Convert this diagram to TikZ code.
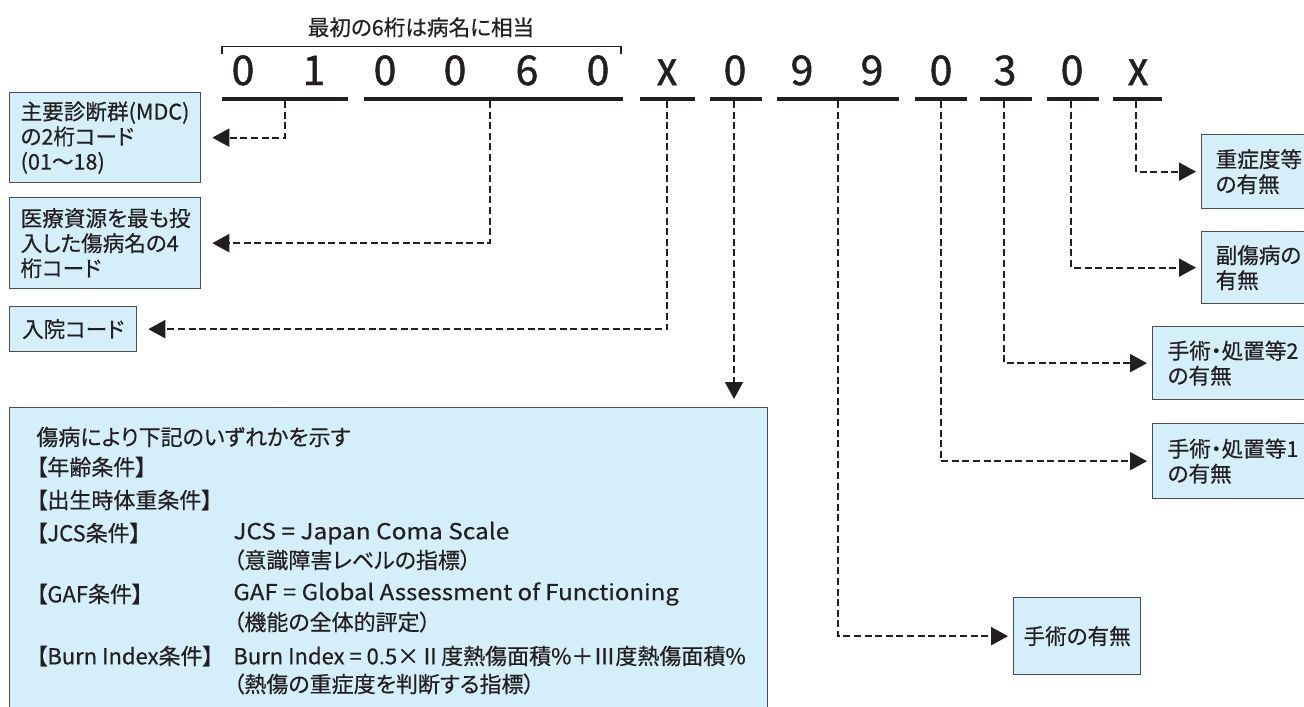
\documentclass[tikz,border=0pt]{standalone}
\usepackage{fontspec}
\setmainfont{Noto Sans CJK JP}[RawFeature=+palt, FakeBold=0.4]
\newfontfamily\digitfont{Noto Sans CJK JP}[FakeBold=1.2]
\usetikzlibrary{arrows.meta}
\definecolor{ink}{HTML}{231F20}
\definecolor{boxfill}{HTML}{D4EEFA}
\definecolor{boxline}{HTML}{4D4D4D}
\begin{document}
\begin{tikzpicture}[x=0.5pt,y=-0.5pt,
  box/.style={draw=boxline, fill=boxfill, line width=0.65pt, text=ink, anchor=north west,
    font=\fontsize{10.8}{12.5}\selectfont, inner ysep=0pt},
  digit/.style={text=ink, font=\digitfont\fontsize{20.5}{22}\selectfont, anchor=base, inner sep=0pt},
  uline/.style={draw=ink, line width=2.1pt},
  conn/.style={draw=ink, line width=1pt, dash pattern=on 3.5pt off 1.8pt,
    -{Triangle[length=8.5pt,width=9pt]}},
  cond/.style={text=ink, anchor=west, inner sep=0pt, font=\fontsize{11}{13}\selectfont}]
\clip (0,0) rectangle (1304,706);
\fill[white] (0,0) rectangle (1304,706);

% title and bracket
\node[text=ink, anchor=base, inner sep=0pt, font=\fontsize{10.8}{12.5}\selectfont] (title) at (421,35.5) {最初の6桁は病名に相当};
\draw[draw=ink, line width=0.8pt] (222,54) -- (222,46.5) -- (621,46.5) -- (621,54);

% digits
\node[digit] (d1) at (243,85) {0};
\node[digit] (d2) at (314,85) {1};
\node[digit] (d3) at (385,85) {0};
\node[digit] (d4) at (455,85) {0};
\node[digit] (d5) at (527,85) {6};
\node[digit] (d6) at (598,85) {0};
\node[digit] (d7) at (667,85) {\scalebox{1}[1.15]{x}};
\node[digit] (d8) at (735,85) {0};
\node[digit] (d9) at (802,85) {9};
\node[digit] (d10) at (872,85) {9};
\node[digit] (d11) at (941,85) {0};
\node[digit] (d12) at (1005,85) {3};
\node[digit] (d13) at (1072,85) {0};
\node[digit] (d14) at (1138,85) {\scalebox{1}[1.15]{x}};

% underlines
\coordinate (u1a) at (222,99);  \coordinate (u1b) at (348,99);
\coordinate (u2a) at (364,99);  \coordinate (u2b) at (623,99);
\coordinate (u3a) at (640,99);  \coordinate (u3b) at (695,99);
\coordinate (u4a) at (710,99);  \coordinate (u4b) at (762,99);
\coordinate (u5a) at (777,99);  \coordinate (u5b) at (899,99);
\coordinate (u6a) at (915,99);  \coordinate (u6b) at (967,99);
\coordinate (u7a) at (980,99);  \coordinate (u7b) at (1032,99);
\coordinate (u8a) at (1047,99); \coordinate (u8b) at (1099,99);
\coordinate (u9a) at (1113,99); \coordinate (u9b) at (1162,99);
\foreach \i in {1,...,9} {\draw[uline] (u\i a) -- (u\i b);}

% tick points
\coordinate (t1) at (285,101);
\coordinate (t2) at (490,101);
\coordinate (t3) at (667,101);
\coordinate (t4) at (734,101);
\coordinate (t5) at (838,101);
\coordinate (t6) at (941,101);
\coordinate (t7) at (1004,101);
\coordinate (t8) at (1071,101);
\coordinate (t9) at (1136,101);

% left boxes
\node[box, text width=84.5pt, inner xsep=5.5pt, minimum height=45pt, align=left] (mdc) at (9,92)
  {主要診断群(MDC)\\の2桁コード\\(01～18)};
\node[box, text width=84.5pt, inner xsep=5.5pt, minimum height=45.5pt, align=left] (icd) at (9,197)
  {医療資源を最も投\\入した傷病名の4\\桁コード};
\node[box, text width=58.5pt, inner xsep=2.5pt, minimum height=22.5pt, align=center] (nyuin) at (9,306)
  {入院コード};

% right boxes
\node[box, text width=45.5pt, inner xsep=7pt, minimum height=37pt, align=left] (jusho) at (1201,134)
  {重症度等\\の有無};
\node[box, text width=45.5pt, inner xsep=7pt, minimum height=36pt, align=left] (fuku) at (1201,231)
  {副傷病の\\有無};
\node[box, text width=69pt, inner xsep=7.5pt, minimum height=36.5pt, align=left] (shochi2) at (1152,326)
  {手術・処置等2\\の有無};
\node[box, text width=69pt, inner xsep=7.5pt, minimum height=37.5pt, align=left] (shochi1) at (1152,423)
  {手術・処置等1\\の有無};
\node[box, text width=58.5pt, inner xsep=2.5pt, minimum height=38.5pt, align=center] (shujutsu) at (1013,597)
  {手術の有無};

% bottom box
\node[box, minimum width=379pt, minimum height=165pt, inner sep=0pt] (condbox) at (9,407) {};
\node[cond] (c0) at (36,437) {傷病により下記のいずれかを示す};
\node[cond] (c1) at (36,467) {【年齢条件】};
\node[cond] (c2) at (36,500) {【出生時体重条件】};
\node[cond] (c3) at (36,533) {【JCS条件】};
\node[cond] (c3r) at (233,533) {\scalebox{1.11}[1]{JCS = Japan Coma Scale}};
\node[cond] (c3s) at (233,560) {（意識障害レベルの指標）};
\node[cond] (c4) at (36,594) {【GAF条件】};
\node[cond] (c4r) at (233,594) {\scalebox{1.09}[1]{GAF = Global Assessment of Functioning}};
\node[cond] (c4s) at (233,622) {（機能の全体的評定）};
\node[cond] (c5) at (36,656) {【Burn Index条件】};
\node[cond] (c5r) at (233,656) {Burn Index = 0.5×Ⅱ度熱傷面積\%＋Ⅲ度熱傷面積\%};
\node[cond] (c5s) at (233,684) {（熱傷の重症度を判断する指標）};

% connectors
\draw[conn, shorten >=5.5pt] (t1) |- (mdc.east);
\draw[conn, shorten >=5.5pt] (t2) |- (icd.east);
\draw[conn, shorten >=5.5pt] (t3) |- (nyuin.east);
\draw[conn, shorten >=4pt] (t4) -- (t4 |- condbox.north);
\draw[conn, shorten >=2.5pt] (t5) |- (shujutsu.west);
\draw[conn, shorten >=2.5pt] (t6) |- (shochi1.west);
\draw[conn, shorten >=2.5pt] (t7) |- (shochi2.west);
\draw[conn, shorten >=2.5pt] (t8) |- (fuku.west);
\draw[conn, shorten >=2.5pt] (t9) |- (jusho.west);
\end{tikzpicture}
\end{document}
